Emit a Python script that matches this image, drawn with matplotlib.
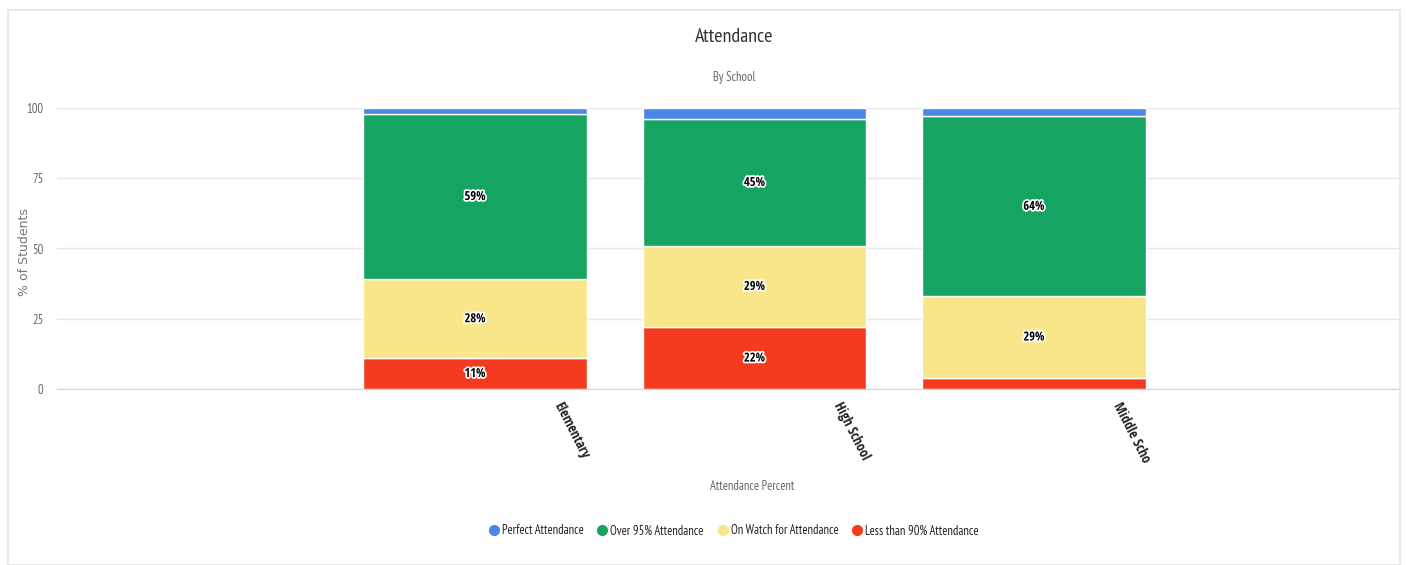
import matplotlib
matplotlib.use("Agg")
import matplotlib.pyplot as plt
from matplotlib.patches import Rectangle
from matplotlib.lines import Line2D
from matplotlib import font_manager as fm
import matplotlib.patheffects as pe
import numpy as np

categories = ["Elementary", "High School", "Middle Scho"]
series_names = ["Perfect Attendance", "Over 95% Attendance", "On Watch for Attendance", "Less than 90% Attendance"]
perfect = [2, 4, 3]
over95 = [59, 45, 64]
on_watch = [28, 29, 29]
less90 = [11, 22, 4]
colors = ["#4a86e8", "#16a462", "#f9e58a", "#f53b1f"]
yticks = [0, 25, 50, 75, 100]

_fonts = fm.fontManager.ttflist
_avail = set(f.name for f in _fonts)
def _has_light(name):
    return any(f.name == name and (f.weight in (300, "light") or (isinstance(f.weight, int) and f.weight <= 400)) for f in _fonts)

BOLDF = None
for cand in ["Open Sans Condensed", "PT Sans Narrow", "IBM Plex Sans Condensed"]:
    if cand in _avail:
        BOLDF = cand
        break
LIGHTF = None
for cand in ["Open Sans Condensed", "PT Sans Narrow", "IBM Plex Sans Condensed"]:
    if cand in _avail and _has_light(cand):
        LIGHTF = cand
        break
CONDB = ([BOLDF] if BOLDF else []) + ["DejaVu Sans"]
CONDL = ([LIGHTF] if LIGHTF else []) + ["DejaVu Sans"]
LW = "light" if LIGHTF == "Open Sans Condensed" else "normal"

fig = plt.figure(figsize=(14.06, 5.65), dpi=100)
fig.patches.append(Rectangle((8/1406, 0), 1392/1406, 1 - 10/565, transform=fig.transFigure,
                             fill=False, edgecolor="#e8e8e8", linewidth=1.5))
ax = fig.add_axes([57/1406, 1 - 389/565, 1343/1406, 281/565])

x = np.arange(len(categories))
w = 0.80
stack = [(less90, colors[3]), (on_watch, colors[2]), (over95, colors[1]), (perfect, colors[0])]
bottom = np.zeros(len(categories))
for vals, c in stack:
    v = np.array(vals, dtype=float)
    ax.bar(x, v, width=w, bottom=bottom, color=c, edgecolor="white", linewidth=1, zorder=3)
    if c != colors[0]:
        for i in range(len(x)):
            if v[i] >= 8:
                ax.text(x[i], bottom[i] + v[i] / 2, f"{int(v[i])}%", ha="center", va="center",
                        fontsize=9, fontweight="bold", family=CONDB, color="black", zorder=5,
                        path_effects=[pe.withStroke(linewidth=2.5, foreground="white")])
    bottom += v

ax.set_xlim(-1.496, 3.31)
ax.set_ylim(0, 100)
ax.set_yticks(yticks)
ax.set_yticklabels([str(t) for t in yticks], family=CONDL, fontweight=LW, fontsize=9, color="#666666")
ax.tick_params(axis="y", length=0, pad=10)
ax.set_xticks([])
for s in ["top", "right", "left"]:
    ax.spines[s].set_visible(False)
ax.spines["bottom"].set_color("#ccd6eb")
ax.spines["bottom"].set_zorder(4)
ax.grid(axis="y", color="#e6e6e6", linewidth=1, zorder=0)
ax.set_axisbelow(True)

for i, cat in enumerate(categories):
    ax.text(x[i] + 0.295, -5, cat, rotation=-63, rotation_mode="anchor", ha="left", va="center",
            fontsize=10, fontweight="bold", family=CONDB, color="#222222", clip_on=False)

fig.text(24/1406, 1 - 252/565, "% of Students", rotation=90, ha="center", va="center",
         fontsize=9, color="#777777", family="DejaVu Sans")
fig.text(734/1406, 1 - 37/565, "Attendance", ha="center", va="center", fontsize=14.5,
         family=CONDL, fontweight=LW, color="#333333")
fig.text(734/1406, 1 - 77/565, "By School", ha="center", va="center", fontsize=9,
         family=CONDL, fontweight=LW, color="#666666")
fig.text(752/1406, 1 - 486/565, "Attendance Percent", ha="center", va="center", fontsize=9,
         family=CONDL, fontweight=LW, color="#666666")

handles = [Line2D([0], [0], marker="o", linestyle="none", markersize=7, markerfacecolor=c,
                  markeredgecolor=c) for c in colors]
fig.legend(handles, series_names, loc="center", bbox_to_anchor=(733/1406, 1 - 531/565), ncol=4,
           frameon=False, prop={"family": CONDL, "size": 9, "weight": LW}, handletextpad=0.15,
           columnspacing=1.0, handlelength=1.0, labelcolor="#222222")

fig.savefig("out.png", dpi=100, facecolor="white")
